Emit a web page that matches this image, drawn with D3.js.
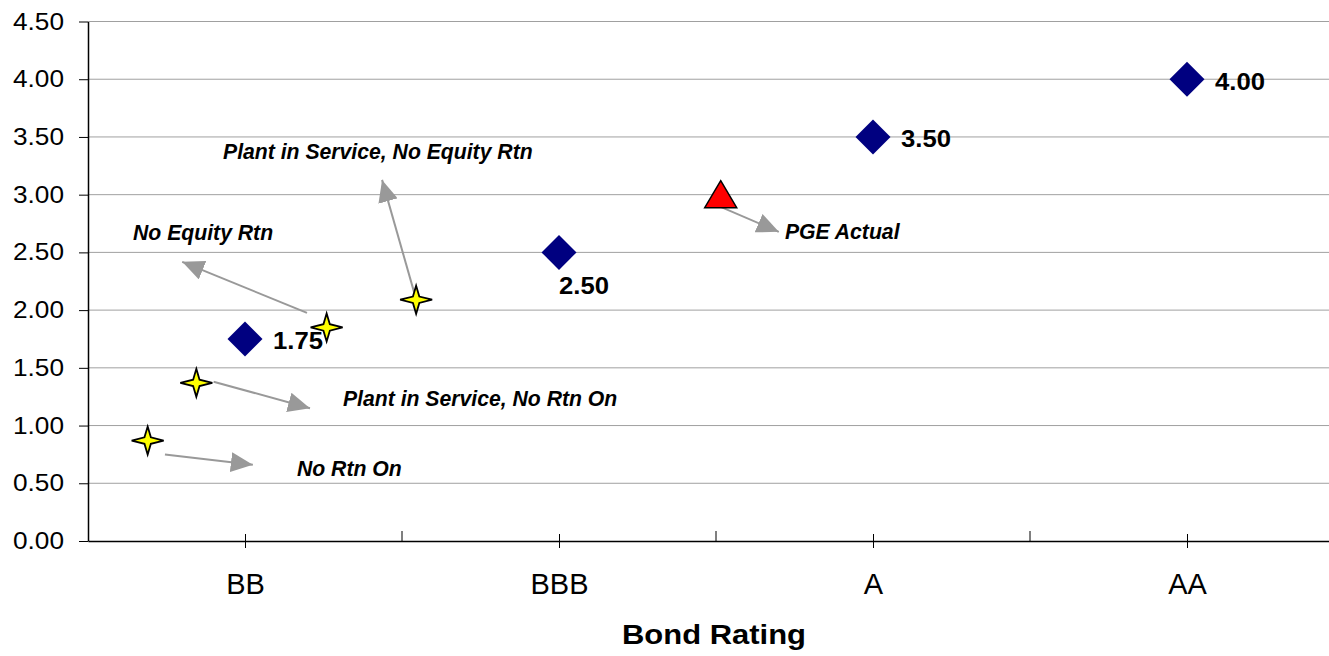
<!DOCTYPE html>
<html>
<head>
<meta charset="utf-8">
<script src="https://cdn.jsdelivr.net/npm/d3@7"></script>
<style>
  html, body { margin: 0; padding: 0; background: #fff; }
  svg { display: block; font-family: Arial, "Liberation Sans", sans-serif; }
</style>
</head>
<body>
<svg id="chart" width="1329" height="656"></svg>
<script>
// ---------- data ----------
const categories = ["BB", "BBB", "A", "AA"];
const categoryPos = [1, 3, 5, 7];
const minorTickPos = [2, 4, 6];
const yTicks = [0, 0.5, 1, 1.5, 2, 2.5, 3, 3.5, 4, 4.5];

// bond rating benchmark (diamonds)
const ratingX = [1, 3, 5, 7];
const ratingY = [1.75, 2.5, 3.5, 4.0];
const ratingLabelSide = ["right", "below", "right", "right"];

// PGE actual (triangle)
const actualX = [4.03];
const actualY = [3.0];

// scenarios (stars)
const scenarioX = [0.38, 0.69, 1.52, 2.09];
const scenarioY = [0.87, 1.37, 1.85, 2.09];

// annotations: arrow start/end and label anchor (data units)
const annoText = ["No Rtn On", "Plant in Service, No Rtn On", "No Equity Rtn", "Plant in Service, No Equity Rtn", "PGE Actual"];
const arrowX1 = [0.49, 0.80, 1.395, 2.076, 4.03];
const arrowY1 = [0.75, 1.38, 1.976, 2.16, 2.894];
const arrowX2 = [1.05, 1.414, 0.60, 1.873, 4.40];
const arrowY2 = [0.66, 1.15, 2.418, 3.128, 2.678];
const labelX = [1.331, 1.624, 0.287, 0.86, 4.439];
const labelY = [0.563, 1.17, 2.608, 3.31, 2.617];

// ---------- layout ----------
const svg = d3.select("#chart");
const x = d3.scaleLinear().domain([0, 8]).range([88, 1344]);
const y = d3.scaleLinear().domain([0, 4.5]).range([541, 21.5]);

// gridlines
svg.append("g").selectAll("line")
  .data(yTicks.filter(d => d > 0))
  .join("line")
  .attr("x1", x(0)).attr("x2", x(8))
  .attr("y1", d => y(d)).attr("y2", d => y(d))
  .attr("stroke", "#a0a0a0").attr("stroke-width", 1);

// y axis
const yAxis = svg.append("g")
  .attr("transform", `translate(${x(0)},0)`)
  .call(d3.axisLeft(y).tickValues(yTicks).tickFormat(d3.format(".2f"))
        .tickSize(9).tickSizeOuter(0).tickPadding(15));
yAxis.select(".domain").attr("stroke", "#000").attr("stroke-width", 1.5);
yAxis.selectAll(".tick line").attr("stroke", "#000");
yAxis.selectAll(".tick text")
  .attr("font-size", 23.5).attr("fill", "#000")
  .attr("font-family", "Arial, 'Liberation Sans', sans-serif")
  .attr("textLength", 51).attr("lengthAdjust", "spacingAndGlyphs");

// x axis with category labels
const xAxis = svg.append("g")
  .attr("transform", `translate(0,${y(0)})`)
  .call(d3.axisBottom(x).tickValues(categoryPos)
        .tickFormat((d, i) => categories[i])
        .tickSize(7).tickSizeOuter(0).tickPadding(25));
xAxis.select(".domain").attr("stroke", "#000").attr("stroke-width", 1.5);
xAxis.selectAll(".tick line").attr("y1", -7).attr("stroke", "#000");
xAxis.selectAll(".tick text")
  .attr("font-size", 29).attr("fill", "#000")
  .attr("font-family", "Arial, 'Liberation Sans', sans-serif");

// minor x ticks (above axis only)
svg.append("g").selectAll("line")
  .data(minorTickPos)
  .join("line")
  .attr("x1", d => x(d)).attr("x2", d => x(d))
  .attr("y1", y(0) - 10).attr("y2", y(0))
  .attr("stroke", "#000");

// axis title
svg.append("text")
  .attr("x", (x(0) + x(8)) / 2 - 2).attr("y", 644)
  .attr("text-anchor", "middle")
  .attr("font-size", 27.5).attr("font-weight", "bold")
  .attr("textLength", 184).attr("lengthAdjust", "spacingAndGlyphs")
  .text("Bond Rating");

// arrow marker
const defs = svg.append("defs");
defs.append("marker")
  .attr("id", "arrow")
  .attr("markerUnits", "userSpaceOnUse")
  .attr("viewBox", "0 0 22 20")
  .attr("markerWidth", 22).attr("markerHeight", 20)
  .attr("refX", 22).attr("refY", 10)
  .attr("orient", "auto")
  .append("path")
  .attr("d", "M0,0 L22,10 L0,20 Z")
  .attr("fill", "#999999");

// arrows
svg.append("g").selectAll("line")
  .data(annoText.map((t, i) => i))
  .join("line")
  .attr("x1", i => x(arrowX1[i])).attr("y1", i => y(arrowY1[i]))
  .attr("x2", i => x(arrowX2[i])).attr("y2", i => y(arrowY2[i]))
  .attr("stroke", "#999999").attr("stroke-width", 2)
  .attr("marker-end", "url(#arrow)");

// annotation labels
svg.append("g").selectAll("text")
  .data(annoText.map((t, i) => i))
  .join("text")
  .attr("x", i => x(labelX[i])).attr("y", i => y(labelY[i]))
  .attr("font-size", 21.2).attr("font-weight", "bold").attr("font-style", "italic")
  .attr("fill", "#000")
  .text(i => annoText[i]);

// diamonds
const diamond = d3.symbol().type(d3.symbolSquare).size(612);
svg.append("g").selectAll("path")
  .data(ratingX.map((v, i) => i))
  .join("path")
  .attr("d", diamond)
  .attr("transform", i => `translate(${x(ratingX[i])},${y(ratingY[i])}) rotate(45)`)
  .attr("fill", "#000080");

// diamond value labels
svg.append("g").selectAll("text")
  .data(ratingX.map((v, i) => i))
  .join("text")
  .attr("x", i => x(ratingX[i]) + (ratingLabelSide[i] === "right" ? 28 : 0))
  .attr("y", i => y(ratingY[i]) + (ratingLabelSide[i] === "right" ? 10.5 : 41.5))
  .attr("font-size", 24.5).attr("font-weight", "bold").attr("fill", "#000")
  .attr("textLength", 50).attr("lengthAdjust", "spacingAndGlyphs")
  .text(i => d3.format(".2f")(ratingY[i]));

// triangle
svg.append("g").selectAll("path")
  .data(actualX.map((v, i) => i))
  .join("path")
  .attr("d", "M0,-14 L16,13 L-16,13 Z")
  .attr("transform", i => `translate(${x(actualX[i])},${y(actualY[i])})`)
  .attr("fill", "#ff0000").attr("stroke", "#000").attr("stroke-width", 1.5)
  .attr("stroke-linejoin", "miter");

// stars (4-point)
const starPath = (() => {
  const rx = 16, ry = 14, a = 3.2;
  return `M0,${-ry} L${a},${-a} L${rx},0 L${a},${a} L0,${ry} L${-a},${a} L${-rx},0 L${-a},${-a} Z`;
})();
svg.append("g").selectAll("path")
  .data(scenarioX.map((v, i) => i))
  .join("path")
  .attr("d", starPath)
  .attr("transform", i => `translate(${x(scenarioX[i])},${y(scenarioY[i])})`)
  .attr("fill", "#ffff00").attr("stroke", "#000").attr("stroke-width", 1.8)
  .attr("stroke-linejoin", "miter");
</script>
</body>
</html>
